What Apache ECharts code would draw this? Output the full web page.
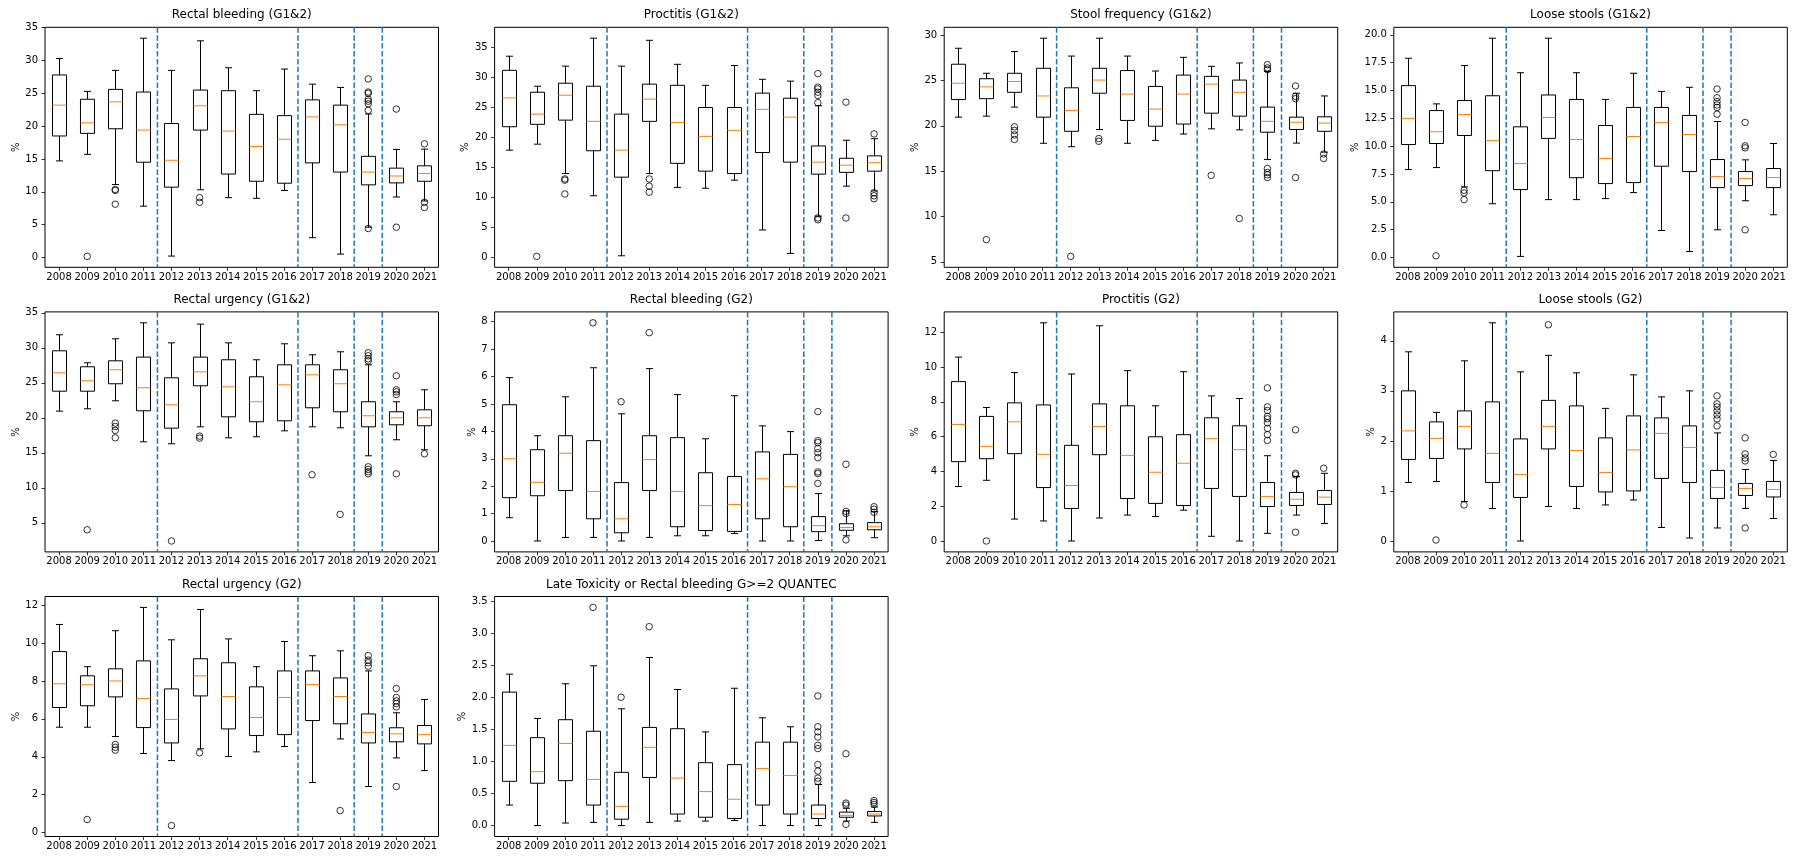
<!DOCTYPE html>
<html><head><meta charset="utf-8">
<script src="https://cdn.jsdelivr.net/npm/echarts@6/dist/echarts.min.js"></script>
<style>html,body{margin:0;padding:0;background:#fff}#c{width:1800px;height:864px}</style>
</head><body><div id="c"></div><script>
const years = ['2008','2009','2010','2011','2012','2013','2014','2015','2016','2017','2018','2019','2020','2021'];
const dividers = [4.5, 9.5, 11.5, 12.5];

// stats per year: [lowWhisker, q1, median, q3, highWhisker]
const rbG12Stats = [[14.7,18.5,23.2,27.8,30.3],[15.7,18.9,20.5,24.1,25.3],[11.1,19.6,23.7,25.6,28.5],[7.8,14.5,19.4,25.2,33.4],[0.2,10.7,14.8,20.4,28.5],[10.3,19.4,23.1,25.5,33.0],[9.1,12.7,19.25,25.4,28.9],[9.0,11.6,16.9,21.8,25.4],[10.2,11.3,18.0,21.6,28.7],[3.0,14.4,21.4,24.0,26.4],[0.5,13.0,20.2,23.2,25.9],[4.6,11.05,13.0,15.4,21.85],[9.2,11.35,12.4,13.6,16.45],[8.6,11.6,12.8,13.95,16.5]];
const rbG12Out = [[],[0.15],[10.2,10.35,8.1],[],[],[9.1,8.4],[],[],[],[],[],[27.2,25.2,25.0,24.1,23.8,23.4,22.4,4.4],[22.6,4.6],[17.3,8.4,7.6]];
const rbG12Ticks = [0,5,10,15,20,25,30,35];

const prG12Stats = [[17.8,21.7,26.5,31.1,33.45],[18.8,22.1,23.8,27.45,28.45],[13.9,22.8,26.95,28.95,31.8],[10.2,17.7,22.6,28.45,36.45],[0.2,13.3,17.8,23.8,31.8],[13.9,22.6,26.3,28.8,36.1],[11.6,15.6,22.4,28.6,32.1],[11.45,14.3,20.1,24.9,28.6],[12.8,13.9,21.1,24.9,31.9],[4.5,17.4,24.6,27.3,29.6],[0.6,15.8,23.3,26.45,29.3],[6.8,13.8,15.8,18.5,25.2],[11.8,14.1,15.3,16.45,19.45],[11.0,14.3,15.7,16.85,19.7]];
const prG12Out = [[],[0.1],[13.0,12.8,10.5],[],[],[13.0,11.8,10.8],[],[],[],[],[],[30.55,28.3,28.0,27.45,26.9,25.7,6.5,6.2],[25.8,6.5],[20.5,10.7,10.2,9.7]];
const prG12Ticks = [0,5,10,15,20,25,30,35];

const sfG12Stats = [[20.96,22.9,24.7,26.8,28.56],[21.07,23.0,24.3,25.2,25.8],[22.07,23.7,24.9,25.8,28.2],[18.08,20.96,23.3,26.35,29.67],[17.7,19.4,21.7,24.2,27.7],[19.6,23.6,25.05,26.35,29.67],[18.08,20.6,23.5,26.1,27.7],[18.4,19.96,21.85,24.35,26.05],[19.1,20.2,23.5,25.6,27.56],[19.67,21.4,24.6,25.46,26.57],[19.56,21.07,23.7,25.05,26.94],[16.3,19.3,20.5,22.07,26.0],[18.1,19.6,20.4,20.96,23.6],[17.1,19.4,20.3,21.0,23.3]];
const sfG12Out = [[],[7.45],[19.9,19.5,19.0,18.5],[],[5.6],[18.6,18.3],[],[],[],[14.54],[9.78],[26.75,26.4,26.2,15.3,14.85,14.6,14.3],[24.4,23.25,23.0,14.3],[16.9,16.4]];
const sfG12Ticks = [5,10,15,20,25,30];

const lsG12Stats = [[7.9,10.15,12.5,15.44,17.9],[8.08,10.24,11.3,13.2,13.8],[6.34,10.96,12.85,14.1,17.24],[4.83,7.8,10.5,14.53,19.7],[0.1,6.1,8.44,11.74,16.6],[5.2,10.7,12.58,14.6,19.7],[5.2,7.17,10.6,14.2,16.6],[5.29,6.64,8.89,11.86,14.2],[5.83,6.73,10.87,13.48,16.55],[2.43,8.2,12.13,13.48,14.92],[0.54,7.72,11.05,12.76,15.29],[2.49,6.28,7.27,8.8,12.22],[5.1,6.46,7.09,7.72,8.77],[3.84,6.28,7.18,7.99,10.24]];
const lsG12Out = [[],[0.15],[6.04,5.8,5.2],[],[],[],[],[],[],[],[],[15.14,14.35,14.0,13.7,13.48,12.88],[12.13,10.03,9.85,2.49],[]];
const lsG12Ticks = [0,2.5,5,7.5,10,12.5,15,17.5,20];

const ruG12Stats = [[20.95,23.8,26.43,29.57,31.86],[21.29,23.8,25.29,27.29,27.86],[22.43,24.86,26.86,28.14,31.29],[16.57,21.0,24.29,28.67,33.57],[16.29,18.52,21.86,25.71,30.71],[18.71,24.57,26.57,28.67,33.38],[17.14,20.14,24.43,28.29,30.71],[17.29,19.43,22.29,25.86,28.29],[18.14,19.57,24.71,27.57,30.57],[18.71,21.43,26.14,27.57,29.0],[18.57,20.86,24.86,26.86,29.43],[14.57,18.71,20.29,22.29,27.57],[16.86,19.0,20.0,20.86,22.29],[15.43,18.86,20.0,21.14,24.0]];
const ruG12Out = [[],[4.0],[19.24,18.76,18.2,17.14],[],[2.4],[17.38,17.1],[],[],[],[11.86],[6.2],[29.29,28.86,28.43,28.14,13.0,12.62,12.29,12.0],[26.0,24.0,23.71,23.33,12.0],[14.86]];
const ruG12Ticks = [5,10,15,20,25,30,35];

const rbG2Stats = [[0.85,1.58,3.0,4.97,5.96],[0,1.65,2.14,3.33,3.84],[0.13,1.84,3.2,3.84,5.26],[0.13,0.81,1.81,3.66,6.32],[0,0.3,0.81,2.13,4.64],[0.13,1.84,2.97,3.84,6.29],[0.19,0.52,1.81,3.77,5.34],[0.19,0.38,1.29,2.49,3.73],[0.27,0.35,1.33,2.35,5.3],[0,0.81,2.27,3.25,4.2],[0,0.52,1.98,3.16,3.99],[0.02,0.34,0.56,0.89,1.73],[0.19,0.39,0.49,0.63,1.1],[0.12,0.41,0.52,0.67,1.07]];
const rbG2Out = [[],[],[],[7.96],[5.08],[7.6],[],[],[],[],[],[4.72,3.66,3.59,3.37,3.22,3.04,2.52,2.46,2.1],[2.8,1.08,1.0,0.04],[1.25,1.16,1.05]];
const rbG2Ticks = [0,1,2,3,4,5,6,7,8];

const prG2Stats = [[3.13,4.56,6.7,9.16,10.57],[3.49,4.73,5.44,7.16,7.67],[1.26,5.02,6.85,7.94,9.68],[1.15,3.07,4.98,7.82,12.54],[0,1.87,3.19,5.5,9.6],[1.32,4.96,6.58,7.88,12.37],[1.49,2.44,4.92,7.77,9.79],[1.41,2.16,3.95,5.99,7.77],[1.77,2.04,4.47,6.11,9.73],[0.27,3.02,5.88,7.08,8.34],[0,2.56,5.25,6.62,8.19],[0.44,1.98,2.56,3.36,4.9],[1.49,2.04,2.4,2.79,3.7],[1.01,2.1,2.52,2.9,3.89]];
const prG2Out = [[],[0],[],[],[],[],[],[],[],[],[],[8.8,7.71,7.5,7.16,7.02,6.79,6.47,6.11,5.78],[6.39,3.89,3.8,0.5],[4.18]];
const prG2Ticks = [0,2,4,6,8,10,12];

const lsG2Stats = [[1.17,1.63,2.2,3.0,3.78],[1.19,1.65,2.05,2.38,2.57],[0.79,1.84,2.29,2.6,3.6],[0.65,1.17,1.75,2.78,4.36],[0,0.87,1.33,2.04,3.38],[0.69,1.84,2.29,2.81,3.71],[0.65,1.09,1.81,2.7,3.36],[0.72,0.98,1.37,2.06,2.65],[0.82,1.0,1.82,2.5,3.32],[0.27,1.25,2.15,2.46,2.88],[0.06,1.17,1.87,2.3,3.0],[0.26,0.85,1.07,1.41,2.16],[0.65,0.91,1.05,1.15,1.43],[0.45,0.88,1.03,1.19,1.61]];
const lsG2Out = [[],[0.02],[0.72],[],[],[4.32],[],[],[],[],[],[2.9,2.74,2.68,2.6,2.52,2.44,2.3],[2.06,1.74,1.66,1.6,0.26],[1.73]];
const lsG2Ticks = [0,1,2,3,4];

const ruG2Stats = [[5.56,6.6,7.85,9.55,10.98],[5.56,6.69,7.8,8.27,8.75],[5.07,7.16,8.0,8.64,10.65],[4.17,5.54,7.07,9.06,11.88],[3.8,4.73,5.97,7.58,10.17],[4.42,7.21,8.27,9.17,11.77],[4.01,5.47,7.18,8.96,10.22],[4.26,5.12,6.07,7.69,8.75],[4.54,5.17,7.13,8.53,10.08],[2.64,5.91,7.81,8.53,9.33],[4.94,5.74,7.18,8.16,9.59],[2.43,4.73,5.28,6.26,8.53],[3.94,4.79,5.21,5.53,6.32],[3.27,4.68,5.17,5.65,7.02]];
const ruG2Out = [[],[0.69],[4.65,4.5,4.35],[],[0.37],[4.21],[],[],[],[],[1.16],[9.34,9.1,8.96,8.78],[7.6,7.13,6.95,6.81,6.63,2.43],[]];
const ruG2Ticks = [0,2,4,6,8,10,12];

const ltStats = [[0.32,0.69,1.25,2.08,2.36],[0,0.66,0.84,1.37,1.67],[0.04,0.7,1.28,1.65,2.21],[0.05,0.32,0.72,1.47,2.49],[0,0.1,0.3,0.83,1.82],[0.05,0.75,1.22,1.53,2.62],[0.07,0.18,0.74,1.51,2.12],[0.07,0.13,0.53,0.98,1.46],[0.08,0.11,0.41,0.95,2.14],[0,0.32,0.89,1.3,1.68],[0,0.18,0.78,1.3,1.54],[0,0.11,0.18,0.32,0.64],[0.07,0.13,0.16,0.21,0.27],[0.05,0.15,0.18,0.22,0.29]];
const ltOut = [[],[],[],[3.4],[2.0],[3.1],[],[],[],[],[],[2.02,1.54,1.46,1.38,1.25,1.2,0.95,0.85,0.74,0.69],[1.12,0.35,0.32,0.02],[0.39,0.36,0.33]];
const ltTicks = [0,0.5,1,1.5,2,2.5,3,3.5];

const panels = [
  {title:'Rectal bleeding (G1&2)', stats:rbG12Stats, out:rbG12Out, ticks:rbG12Ticks},
  {title:'Proctitis (G1&2)', stats:prG12Stats, out:prG12Out, ticks:prG12Ticks},
  {title:'Stool frequency (G1&2)', stats:sfG12Stats, out:sfG12Out, ticks:sfG12Ticks},
  {title:'Loose stools (G1&2)', stats:lsG12Stats, out:lsG12Out, ticks:lsG12Ticks},
  {title:'Rectal urgency (G1&2)', stats:ruG12Stats, out:ruG12Out, ticks:ruG12Ticks},
  {title:'Rectal bleeding (G2)', stats:rbG2Stats, out:rbG2Out, ticks:rbG2Ticks},
  {title:'Proctitis (G2)', stats:prG2Stats, out:prG2Out, ticks:prG2Ticks},
  {title:'Loose stools (G2)', stats:lsG2Stats, out:lsG2Out, ticks:lsG2Ticks},
  {title:'Rectal urgency (G2)', stats:ruG2Stats, out:ruG2Out, ticks:ruG2Ticks},
  {title:'Late Toxicity or Rectal bleeding G>=2 QUANTEC', stats:ltStats, out:ltOut, ticks:ltTicks}
];

// layout (pixels)
const FONT = 'DejaVu Sans';
const L0 = 45, COLSTEP = 449.6, GW = 393.5;
const T0 = 27.3, ROWSTEP = 284.6, GH = 240;

function textW(s){ let w=0; for (const ch of s){ w += (ch==='.')?3.18:(ch==='-'?8.38:6.36);} return w; }

const grids=[], xAxes=[], yAxes=[], titles=[], series=[];

function renderBox(params, api){
  const x = api.value(0);
  const pLo = api.coord([x, api.value(1)]);
  const pQ1 = api.coord([x, api.value(2)]);
  const pMd = api.coord([x, api.value(3)]);
  const pQ3 = api.coord([x, api.value(4)]);
  const pHi = api.coord([x, api.value(5)]);
  const bw = api.size([1,0])[0];
  const hw = bw*0.25, cw = bw*0.125, cx = Math.round(pQ1[0])+0.5;
  const st = {stroke:'#000', lineWidth:1, fill:null};
  return {type:'group', children:[
    {type:'line', shape:{x1:cx,y1:pLo[1],x2:cx,y2:pQ1[1]}, style:st},
    {type:'line', shape:{x1:cx,y1:pQ3[1],x2:cx,y2:pHi[1]}, style:st},
    {type:'line', shape:{x1:cx-cw,y1:pLo[1],x2:cx+cw,y2:pLo[1]}, style:st},
    {type:'line', shape:{x1:cx-cw,y1:pHi[1],x2:cx+cw,y2:pHi[1]}, style:st},
    {type:'rect', shape:{x:cx-hw,y:pQ3[1],width:2*hw,height:pQ1[1]-pQ3[1]}, style:{stroke:'#000',lineWidth:1,fill:'rgba(0,0,0,0)'}},
    {type:'line', shape:{x1:cx-hw,y1:pMd[1],x2:cx+hw,y2:pMd[1]}, style:{stroke:'#ff7f0e',lineWidth:1}}
  ]};
}
function renderDivider(params, api){
  const p = api.coord([api.value(0), 0]);
  const cs = params.coordSys;
  return {type:'line', shape:{x1:p[0],y1:cs.y,x2:p[0],y2:cs.y+cs.height},
    style:{stroke:'#1f77b4', lineWidth:1.5, lineDash:[5.5,2.4]}};
}

panels.forEach((p, i) => {
  const row = Math.floor(i/4), col = i%4;
  const left = L0 + col*COLSTEP, top = T0 + row*ROWSTEP;
  grids.push({left:left, top:top, width:GW, height:GH, show:true, borderColor:'#000', borderWidth:1, backgroundColor:'#fff', containLabel:false});
  const all = p.stats.flat().concat(p.out.flat());
  const dmin = Math.min(...all), dmax = Math.max(...all), m = 0.05*(dmax-dmin);
  const dec = p.ticks.some(t => !Number.isInteger(t)) ? 1 : 0;
  const labs = p.ticks.map(t => t.toFixed(dec));
  const lw = Math.max(...labs.map(textW));
  xAxes.push({type:'category', gridIndex:i, data:years, boundaryGap:true, position:'bottom',
    axisLine:{show:false, onZero:false}, axisTick:{show:true, alignWithLabel:true, length:3.5, lineStyle:{color:'#000', width:0.8}},
    axisLabel:{interval:0, fontSize:10, color:'#000', fontFamily:FONT, margin:5, hideOverlap:false},
    splitLine:{show:false}});
  xAxes.push({type:'value', gridIndex:i, min:0.5, max:14.5, show:false, axisLine:{onZero:false}});
  yAxes.push({type:'value', gridIndex:i, min:dmin-m, max:dmax+m, scale:true, position:'left',
    name:'%', nameLocation:'middle', nameGap:lw+11, nameTextStyle:{fontSize:10, color:'#000', fontFamily:FONT},
    axisLine:{show:false, onZero:false},
    axisTick:{show:true, length:3.5, customValues:p.ticks, lineStyle:{color:'#000', width:0.8}},
    axisLabel:{customValues:p.ticks, fontSize:10, color:'#000', fontFamily:FONT, margin:7, formatter:v => Number(v).toFixed(dec)},
    splitLine:{show:false}});
  titles.push({text:p.title, left:left+GW/2, top:top-18, textAlign:'center', padding:0,
    textStyle:{fontSize:12, fontWeight:'normal', color:'#000', fontFamily:FONT}});
  series.push({type:'custom', name:'div'+i, xAxisIndex:2*i+1, yAxisIndex:i, renderItem:renderDivider,
    data:dividers.map(d => [d]), encode:{x:0}, silent:true, z:1});
  series.push({type:'custom', name:'box'+i, xAxisIndex:2*i, yAxisIndex:i, renderItem:renderBox,
    data:p.stats.map((s,k) => [k].concat(s)), encode:{x:0, y:[1,2,3,4,5]}, z:2});
  const pts = [];
  p.out.forEach((arr,k) => arr.forEach(v => pts.push([k, v])));
  series.push({type:'scatter', name:'out'+i, xAxisIndex:2*i, yAxisIndex:i, data:pts, symbol:'circle', symbolSize:6.5,
    itemStyle:{color:'rgba(0,0,0,0)', borderColor:'#000', borderWidth:1}, z:3});
});

const chart = echarts.init(document.getElementById('c'), null, {renderer:'canvas'});
chart.setOption({animation:false, backgroundColor:'#fff', title:titles, grid:grids, xAxis:xAxes, yAxis:yAxes, series:series});
</script></body></html>
